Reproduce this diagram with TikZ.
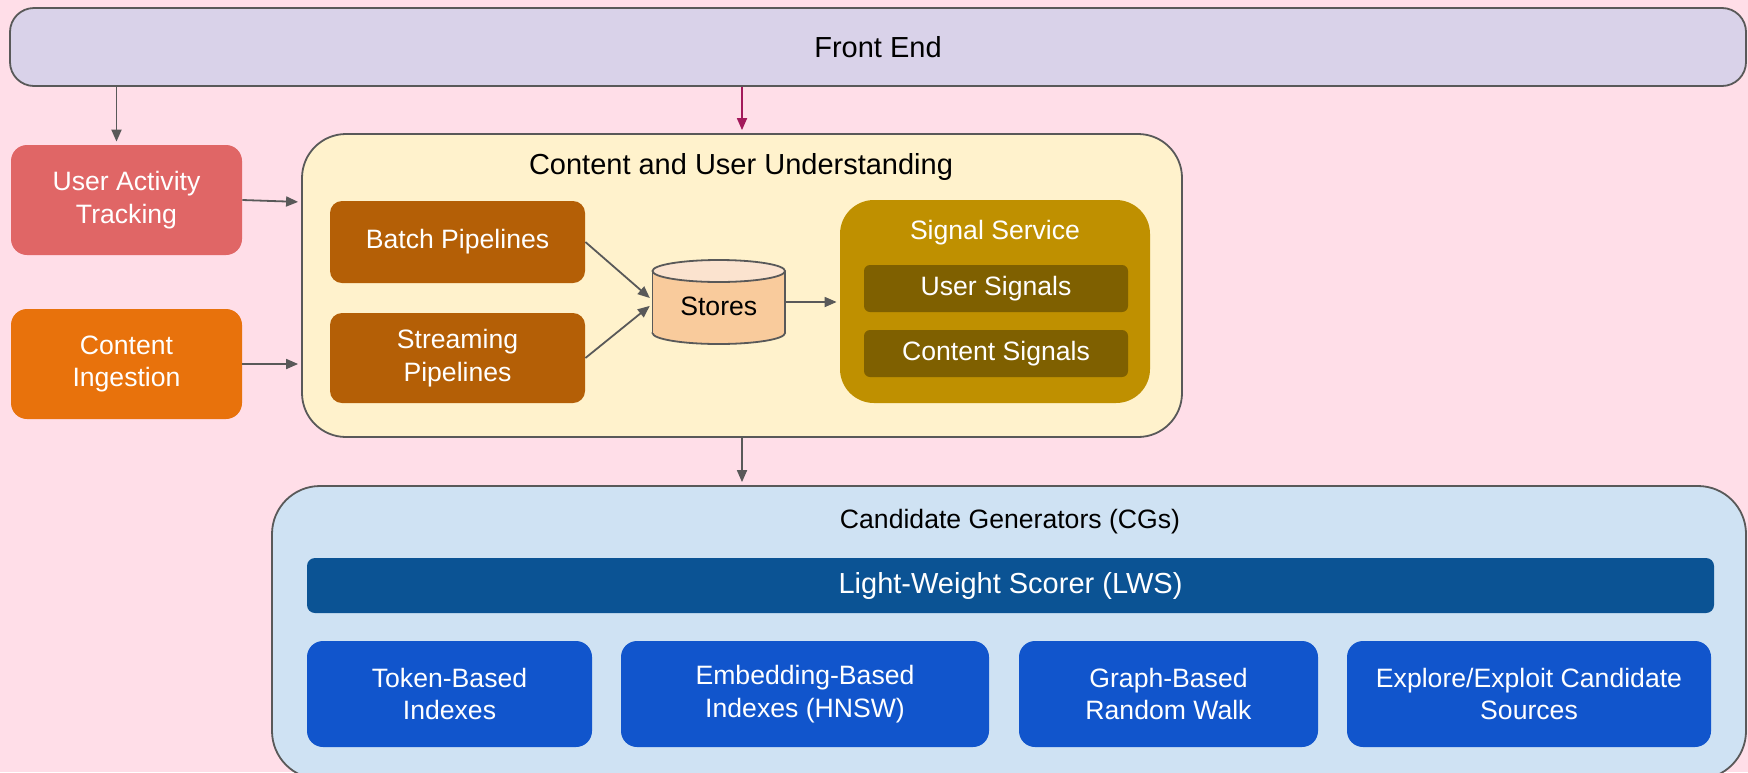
\documentclass[tikz,border=0pt]{standalone}
\usepackage{fontspec}
\setmainfont{Liberation Sans}
\usetikzlibrary{fit,arrows.meta,calc}
\definecolor{bgC}{HTML}{FFDEE8}
\definecolor{lineC}{HTML}{595959}
\definecolor{feC}{HTML}{D9D2E9}
\definecolor{uatC}{HTML}{E06666}
\definecolor{ciC}{HTML}{E8720C}
\definecolor{cuuC}{HTML}{FFF2CC}
\definecolor{pipeC}{HTML}{B45F06}
\definecolor{storeC}{HTML}{F9CB9C}
\definecolor{storeTopC}{HTML}{FBE3CF}
\definecolor{ssC}{HTML}{BF9000}
\definecolor{sigC}{HTML}{7F6000}
\definecolor{cgC}{HTML}{CFE2F3}
\definecolor{lwsC}{HTML}{0B5394}
\definecolor{srcC}{HTML}{1155CC}
\definecolor{redArrC}{HTML}{A3195B}
\newcommand\dgbody{\fontsize{13.3}{16.2}\selectfont}
\newcommand\dgbig{\fontsize{14.5}{17.5}\selectfont}
\tikzset{
  base/.style={inner sep=0pt},
  container/.style={base, draw=lineC, line width=0.9pt},
  solidbox/.style={base},
  wtext/.style={inner sep=0pt, align=center, text=white, font=\dgbody},
  btext/.style={inner sep=0pt, align=center, text=black, font=\dgbody},
  bigw/.style={wtext, font=\dgbig},
  bigb/.style={btext, font=\dgbig},
  arr/.style={draw=lineC, line width=0.9pt, -{Triangle[length=6pt,width=5pt]}, shorten >=1.5pt},
}
\begin{document}
\begin{tikzpicture}[x=0.5pt,y=-0.5pt]
\useasboundingbox[fill=bgC] (0,0) rectangle (1748,772);
\clip (0,0) rectangle (1748,772);

% Front end
\node[container, fill=feC, rounded corners=12pt, fit={(10,8)(1746,86)}, label={[bigb]center:Front End}] (fe) {};

% left boxes
\node[solidbox, fill=uatC, rounded corners=8pt, fit={(11,145)(242,255)}, label={[wtext]center:{User Activity\\Tracking}}] (uat) {};
\node[solidbox, fill=ciC, rounded corners=8pt, fit={(11,309)(242,419)}, label={[wtext]center:{Content\\Ingestion}}] (ci) {};

% Content and user understanding
\node[container, fill=cuuC, rounded corners=22pt, fit={(302,134)(1182,437)}] (cuu) {};
\node[bigb] (cuutitle) at (741,167) {Content and User Understanding};

\node[solidbox, fill=pipeC, rounded corners=6pt, fit={(330,201)(585,283)}, label={[wtext]center:Batch Pipelines}] (batch) {};
\node[solidbox, fill=pipeC, rounded corners=6pt, fit={(330,313)(585,403)}, label={[wtext]center:{Streaming\\Pipelines}}] (stream) {};

% Stores cylinder
\fill[storeC, draw=lineC, line width=0.9pt] (718.75,333) ellipse [x radius=66.25, y radius=11];
\fill[storeC] (652.5,271) rectangle (785,333);
\draw[lineC, line width=0.9pt] (652.5,271) -- (652.5,333) (785,271) -- (785,333);
\filldraw[fill=storeTopC, draw=lineC, line width=0.9pt] (718.75,271) ellipse [x radius=66.25, y radius=11];
\node[base, fit={(652.5,260)(785,344)}] (stores) {};
\node[btext] (storestext) at (718.75,306) {Stores};

% Signal service
\node[solidbox, fill=ssC, rounded corners=17pt, fit={(840,200)(1150,403)}] (ss) {};
\node[wtext] (sstitle) at (995,233) {Signal Service};
\node[solidbox, fill=sigC, rounded corners=3pt, fit={(864,265)(1128,312)}, label={[wtext]center:User Signals}] (us) {};
\node[solidbox, fill=sigC, rounded corners=3pt, fit={(864,330)(1128,377)}, label={[wtext]center:Content Signals}] (cs) {};

% Candidate generators
\node[container, fill=cgC, rounded corners=24pt, fit={(272,486)(1746,779)}] (cg) {};
\node[btext] (cgtitle) at (1010,522) {Candidate Generators (CGs)};
\node[solidbox, fill=lwsC, rounded corners=4pt, fit={(307,558)(1714,613)}, label={[bigw]center:Light-Weight Scorer (LWS)}] (lws) {};
\node[solidbox, fill=srcC, rounded corners=8pt, fit={(307,641)(592,747)}, label={[wtext]center:{Token-Based\\Indexes}}] (tok) {};
\node[solidbox, fill=srcC, rounded corners=8pt, fit={(621,641)(989,747)}, label={[wtext]center:{Embedding-Based\\Indexes (HNSW)}}] (emb) {};
\node[solidbox, fill=srcC, rounded corners=8pt, fit={(1019,641)(1318,747)}, label={[wtext]center:{Graph-Based\\Random Walk}}] (gra) {};
\node[solidbox, fill=srcC, rounded corners=8pt, fit={(1347,641)(1711,747)}, label={[wtext]center:{Explore/Exploit Candidate\\Sources}}] (exp) {};

% connectors
\draw[arr] ([xshift=-5pt]uat.north |- fe.south) -- ([xshift=-5pt]uat.north);
\draw[arr, draw=redArrC] (cuu.north |- fe.south) -- (cuu.north);
\draw[arr] (uat.east) -- ([yshift=-1pt]uat.east -| cuu.west);
\draw[arr] (ci.east) -- (ci.east -| cuu.west);
\draw[arr] (batch.east) -- ([yshift=1pt]stores.west);
\draw[arr] (stream.east) -- ([yshift=-1pt]stores.west);
\draw[arr] (stores.east) -- (stores.east -| ss.west);
\draw[arr] (cuu.south) -- (cuu.south |- cg.north);
\end{tikzpicture}
\end{document}
